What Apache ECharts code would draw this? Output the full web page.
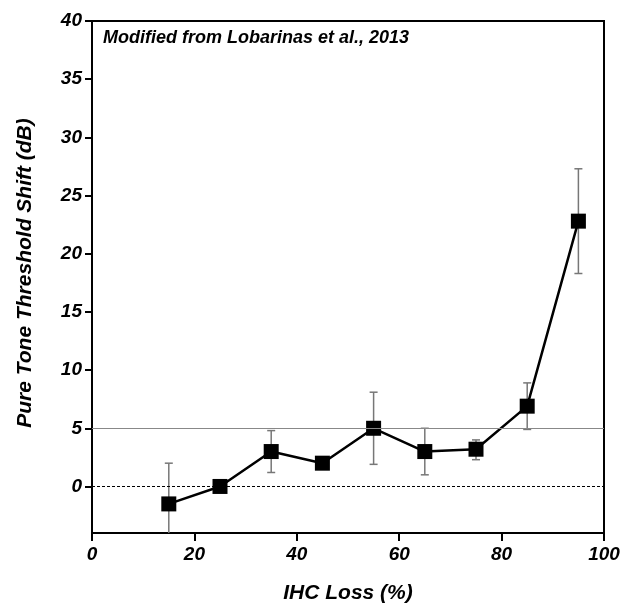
<!DOCTYPE html>
<html>
<head>
<meta charset="utf-8">
<script src="https://cdn.jsdelivr.net/npm/echarts@6/dist/echarts.min.js"></script>
<style>
  html, body { margin: 0; padding: 0; background: #fff; }
  #chart { width: 632px; height: 613px; }
</style>
</head>
<body>
<div id="chart"></div>
<script>
const ihcLoss = [15, 25, 35, 45, 55, 65, 75, 85, 95];
const shift = [-1.5, 0, 3, 2, 5, 3, 3.2, 6.9, 22.8];
const errLow = [-5, 0, 1.2, 2, 1.9, 1.0, 2.3, 4.9, 18.3];
const errHigh = [2, 0, 4.8, 2, 8.1, 5.0, 4.0, 8.9, 27.3];
const yTicks = [0, 5, 10, 15, 20, 25, 30, 35, 40];

const font = '"Liberation Sans", Arial, sans-serif';

const chart = echarts.init(document.getElementById('chart'), null, { renderer: 'canvas' });

const errData = ihcLoss.map((x, i) => [x, errLow[i], errHigh[i]]);
const points = ihcLoss.map((x, i) => [x, shift[i]]);

const option = {
  backgroundColor: '#fff',
  animation: false,
  grid: {
    left: 92, right: 28, top: 21, bottom: 80,
    show: true, borderColor: '#000', borderWidth: 2
  },
  graphic: [
    {
      type: 'text', left: 103, top: 29,
      style: {
        text: 'Modified from Lobarinas et al., 2013',
        font: 'italic bold 18px ' + font, fill: '#000'
      }
    },
    {
      type: 'text', x: 25, y: 273, rotation: Math.PI / 2,
      style: {
        text: 'Pure Tone Threshold Shift (dB)',
        font: 'italic bold 21px ' + font, fill: '#000',
        align: 'center', verticalAlign: 'middle'
      }
    }
  ],
  xAxis: {
    type: 'value', min: 0, max: 100, interval: 20,
    name: 'IHC Loss (%)', nameLocation: 'middle', nameGap: 50,
    nameTextStyle: { fontFamily: font, fontStyle: 'italic', fontWeight: 'bold', fontSize: 21, color: '#000' },
    axisLine: { show: true, onZero: false, lineStyle: { color: '#000', width: 2 } },
    axisTick: { show: true, length: 8, lineStyle: { color: '#000', width: 2 } },
    axisLabel: { fontFamily: font, fontStyle: 'italic', fontWeight: 'bold', fontSize: 19, color: '#000', margin: 12 },
    splitLine: { show: false }
  },
  yAxis: {
    type: 'value', min: -4, max: 40,
    axisLine: { show: true, onZero: false, lineStyle: { color: '#000', width: 2 } },
    axisTick: { show: true, length: 7, customValues: yTicks, lineStyle: { color: '#000', width: 2 } },
    axisLabel: { customValues: yTicks, fontFamily: font, fontStyle: 'italic', fontWeight: 'bold', fontSize: 19, color: '#000', margin: 10 },
    splitLine: { show: false }
  },
  series: [
    {
      type: 'custom',
      data: errData,
      clip: true,
      z: 2,
      renderItem: function (params, api) {
        const x = api.value(0);
        const lo = api.coord([x, api.value(1)]);
        const hi = api.coord([x, api.value(2)]);
        const cap = 4;
        const style = { stroke: '#777', lineWidth: 1.5 };
        return {
          type: 'group',
          children: [
            { type: 'line', shape: { x1: lo[0], y1: lo[1], x2: hi[0], y2: hi[1] }, style: style },
            { type: 'line', shape: { x1: hi[0] - cap, y1: hi[1], x2: hi[0] + cap, y2: hi[1] }, style: style },
            { type: 'line', shape: { x1: lo[0] - cap, y1: lo[1], x2: lo[0] + cap, y2: lo[1] }, style: style }
          ]
        };
      }
    },
    {
      type: 'line',
      data: points,
      symbol: 'rect',
      symbolSize: 15,
      z: 3,
      lineStyle: { color: '#000', width: 2.5 },
      itemStyle: { color: '#000' },
      markLine: {
        silent: true,
        symbol: 'none',
        label: { show: false },
        data: [
          { yAxis: 5, lineStyle: { color: '#888', width: 1.2, type: 'solid' } },
          { yAxis: 0, lineStyle: { color: '#000', width: 1, type: [3, 2] } }
        ]
      }
    }
  ]
};

chart.setOption(option);
</script>
</body>
</html>
